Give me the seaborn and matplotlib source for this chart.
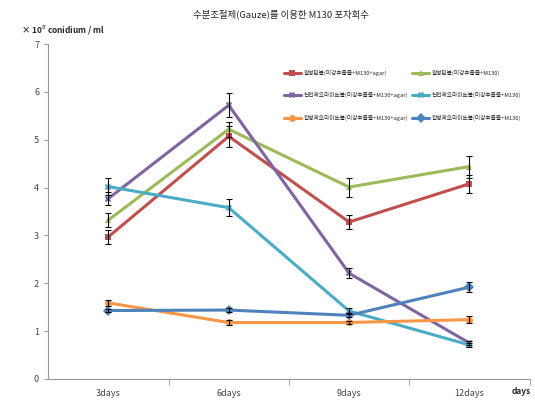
import pandas as pd
import matplotlib.pyplot as plt
import seaborn as sns

# 데이터
days = ['3days', '6days', '9days', '12days']
labels = [
    '활성탄볼(미강추출물+M130+agar)',
    '활성탄볼(미강추출물+M130)',
    '천연제오라이트볼(미강추출물+M130+agar)',
    '천연제오라이트볼(미강추출물+M130)',
    '합성제오라이트볼(미강추출물+M130+agar)',
    '합성제오라이트볼(미강추출물+M130)',
]
act_agar = [2.97, 5.07, 3.28, 4.08]
act_m130 = [3.32, 5.22, 4.01, 4.44]
nat_agar = [3.77, 5.72, 2.21, 0.75]
nat_m130 = [4.02, 3.58, 1.42, 0.71]
syn_agar = [1.59, 1.18, 1.18, 1.24]
syn_m130 = [1.43, 1.44, 1.33, 1.92]

act_agar_err = [0.14, 0.22, 0.15, 0.19]
act_m130_err = [0.15, 0.16, 0.2, 0.23]
nat_agar_err = [0.14, 0.25, 0.1, 0.05]
nat_m130_err = [0.17, 0.18, 0.06, 0.05]
syn_agar_err = [0.06, 0.05, 0.04, 0.07]
syn_m130_err = [0.04, 0.05, 0.04, 0.1]

colors = ['#C0504D', '#9BBB59', '#8064A2', '#4BACC6', '#F79646', '#4F81BD']
markers = ['s', '^', 'X', 'X', 'o', 'D']

values = [act_agar, act_m130, nat_agar, nat_m130, syn_agar, syn_m130]
errors = [act_agar_err, act_m130_err, nat_agar_err, nat_m130_err, syn_agar_err, syn_m130_err]

rows = []
for lab, vals, errs in zip(labels, values, errors):
    for d, v, e in zip(days, vals, errs):
        rows.append({'day': d, 'value': v, 'err': e, 'series': lab})
df = pd.DataFrame(rows)
df['pos'] = df['day'].map({d: i for i, d in enumerate(days)})

sns.set_style('white')
plt.rcParams['font.family'] = ['Noto Sans CJK KR', 'DejaVu Sans']

fig = plt.figure(figsize=(5.35, 4.04), dpi=100)
ax = fig.add_axes([0.09, 0.062, 0.90, 0.829])

sns.lineplot(data=df, x='pos', y='value', hue='series', style='series',
             hue_order=labels, style_order=labels,
             palette=colors, markers=markers, dashes=False,
             linewidth=2.2, markersize=5, markeredgewidth=0, ax=ax)

# 에러바
for lab in labels:
    sub = df[df['series'] == lab]
    ax.errorbar(sub['pos'], sub['value'], yerr=sub['err'], fmt='none',
                ecolor='black', elinewidth=0.8, capsize=2.5, capthick=0.8, zorder=5)

ax.set_xlim(-0.5, 3.5)
ax.set_ylim(0, 7)
ax.set_xticks(range(len(days)))
ax.set_xticklabels(days)
ax.set_xticks([0.5, 1.5, 2.5, 3.5], minor=True)
ax.tick_params(axis='x', which='major', length=0, pad=7, labelsize=6.5, labelcolor='#444444')
ax.tick_params(axis='x', which='minor', length=4, color='#999999', direction='out', bottom=True)
ax.set_yticks(range(8))
ax.tick_params(axis='y', length=3, color='#999999', labelsize=6.5, labelcolor='#444444', left=True)
ax.set_xlabel('')
ax.set_ylabel('')
for s in ['top', 'right']:
    ax.spines[s].set_visible(False)
for s in ['left', 'bottom']:
    ax.spines[s].set_color('#999999')
    ax.spines[s].set_linewidth(0.8)

fig.text(0.36, 0.965, '수분조절제(Gauze)를 이용한 M130 포자회수', ha='left', va='center', fontsize=6.8)
fig.text(0.04, 0.925, '× 10$^8$ conidium / ml', ha='left', va='center', fontsize=6, fontweight='bold')
fig.text(0.975, 0.03, 'days', ha='center', va='center', fontsize=6, fontweight='bold')

# 범례: 행 우선 순서로 배치
handles, labs = ax.get_legend_handles_labels()
order = [0, 2, 4, 1, 3, 5]
ax.legend([handles[i] for i in order], [labs[i] for i in order],
          loc='upper left', bbox_to_anchor=(0.485, 0.93), ncol=2, frameon=False,
          fontsize=4.1, handlelength=3, handletextpad=0.4, columnspacing=0.8,
          labelspacing=2.9, borderaxespad=0)

fig.savefig('out.png', dpi=100)
